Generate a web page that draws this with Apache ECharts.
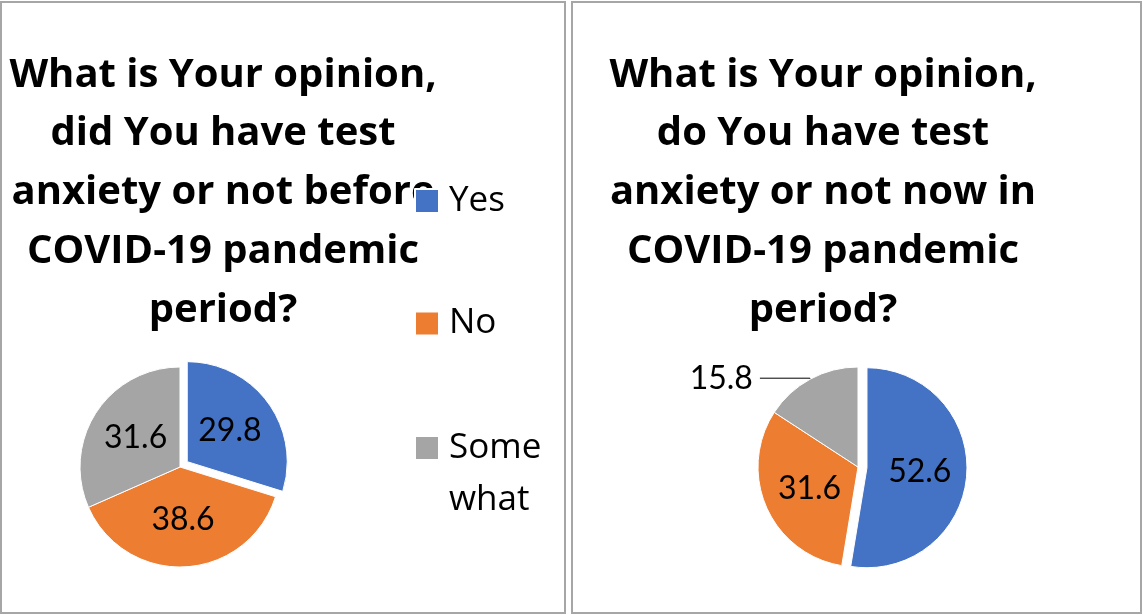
<!DOCTYPE html>
<html>
<head>
<meta charset="utf-8">
<script src="https://cdn.jsdelivr.net/npm/echarts@6/dist/echarts.min.js"></script>
<style>
html,body{margin:0;padding:0;background:#fff;}
#chart{width:1143px;height:615px;}
</style>
</head>
<body>
<div id="chart"></div>
<script>
const categories = ['Yes', 'No', 'Somewhat'];
const legendLabels = ['Yes', 'No', '\nSome\nwhat'];
const beforeValues = [29.8, 38.6, 31.6];
const nowValues = [52.6, 31.6, 15.8];
const titleBefore = 'What is Your opinion,\ndid You have test\nanxiety or not before\nCOVID-19 pandemic\nperiod?';
const titleNow = 'What is Your opinion,\ndo You have test\nanxiety or not now in\nCOVID-19 pandemic\nperiod?';
const colors = ['#4472C4', '#ED7D31', '#A5A5A5'];

const LABEL_FONT = 'Lato, "Open Sans", sans-serif';
const TEXT_FONT = '"Open Sans", Lato, sans-serif';

function pieData(values, opts) {
  return values.map((v, i) => {
    const item = { name: categories[i], value: v, itemStyle: { color: colors[i] } };
    if (i === 0) item.selected = true;
    if (opts && opts[i]) Object.assign(item, opts[i]);
    return item;
  });
}

const chart = echarts.init(document.getElementById('chart'), null, { renderer: 'canvas' });

const legendTops = [181, 303.5, 370];
const legends = categories.map((c, i) => ({
  data: [{ name: c, icon: 'rect' }],
  orient: 'vertical',
  left: 414,
  top: legendTops[i],
  padding: 0,
  itemWidth: 24,
  itemHeight: 24,
  selectedMode: false,
  formatter: () => legendLabels[i],
  textStyle: i === 2
    ? { fontFamily: TEXT_FONT, fontSize: 35, color: '#000', lineHeight: 52, padding: [0, 0, 0, 5] }
    : { fontFamily: TEXT_FONT, fontSize: 35, color: '#000', lineHeight: 40, padding: [0, 0, 0, 5] }
}));

const labelStyle = { show: true, position: 'inside', fontFamily: LABEL_FONT, fontSize: 32, color: '#000', formatter: '{c}' };

chart.setOption({
  animation: false,
  backgroundColor: '#fff',
  legend: legends,
  graphic: [
    { type: 'rect', z: -10, shape: { x: 1, y: 2, width: 564, height: 611 }, style: { fill: '#fff', stroke: '#a6a6a6', lineWidth: 2 } },
    { type: 'rect', z: -10, shape: { x: 572, y: 2, width: 569, height: 611 }, style: { fill: '#fff', stroke: '#a6a6a6', lineWidth: 2 } },
    { type: 'text', z: 0, x: 223, y: 46, style: { text: titleBefore, align: 'center', verticalAlign: 'top', font: 'bold 40px ' + TEXT_FONT, lineHeight: 58.7, fill: '#000' } },
    { type: 'text', z: 0, x: 823, y: 46, style: { text: titleNow, align: 'center', verticalAlign: 'top', font: 'bold 40px ' + TEXT_FONT, lineHeight: 58.7, fill: '#000' } }
  ],
  series: [
    {
      type: 'pie',
      center: [180, 467],
      radius: 100,
      startAngle: 90,
      clockwise: true,
      selectedMode: 'single',
      selectedOffset: 9,
      emphasis: { disabled: true },
      itemStyle: { borderColor: '#fff', borderWidth: 1 },
      label: labelStyle,
      labelLine: { show: false },
      data: pieData(beforeValues)
    },
    {
      type: 'pie',
      center: [858, 467],
      radius: 100,
      startAngle: 90,
      clockwise: true,
      selectedMode: 'single',
      selectedOffset: 9,
      emphasis: { disabled: true },
      itemStyle: { borderColor: '#fff', borderWidth: 1 },
      label: labelStyle,
      labelLine: { show: false },
      data: pieData(nowValues, {
        2: {
          label: { position: 'outside', fontFamily: LABEL_FONT, fontSize: 32, color: '#000', distanceToLabelLine: 7, padding: [0, 0, 6, 0] },
          labelLine: { show: true, length: 1, length2: 50, lineStyle: { color: '#000', width: 1 } }
        }
      })
    }
  ]
});
</script>
</body>
</html>
